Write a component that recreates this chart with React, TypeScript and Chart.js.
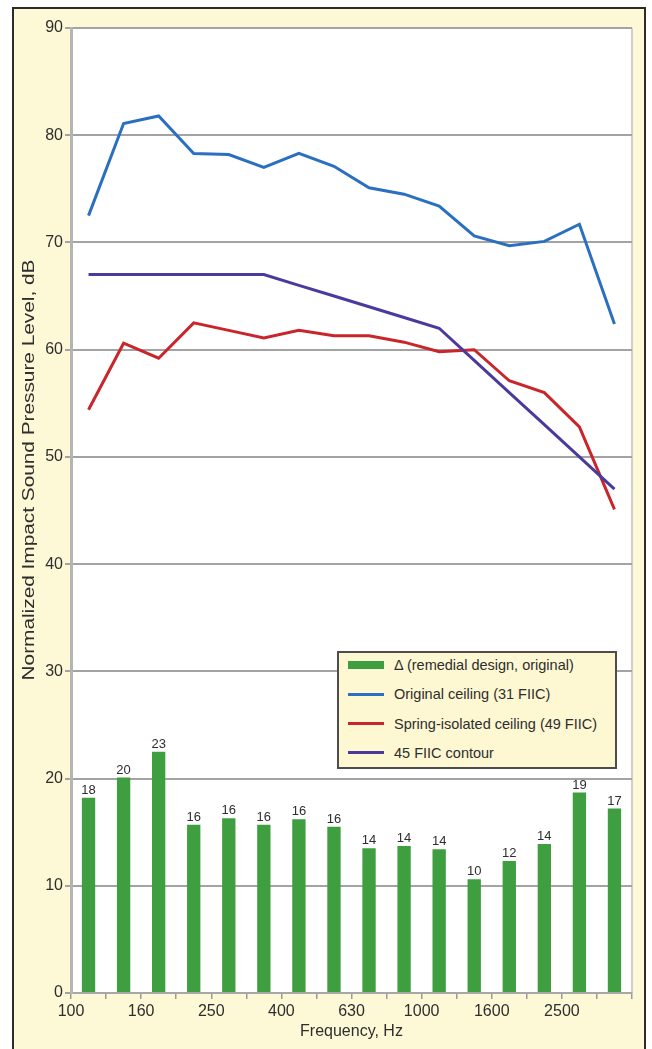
import { useEffect, useRef } from 'react';
import { Chart, registerables } from 'chart.js';

Chart.register(...registerables);

// 1/3-octave bands (one bar / point per band)
const BANDS = ['100', '125', '160', '200', '250', '315', '400', '500', '630', '800', '1000', '1250', '1600', '2000', '2500', '3150'];
// labels printed on the band boundaries (every other one)
const TICK_LABELS = ['100', '160', '250', '400', '630', '1000', '1600', '2500'];

const DELTA = [18.2, 20.1, 22.5, 15.7, 16.3, 15.7, 16.2, 15.5, 13.5, 13.7, 13.4, 10.6, 12.3, 13.9, 18.7, 17.2];
const DELTA_LABELS = ['18', '20', '23', '16', '16', '16', '16', '16', '14', '14', '14', '10', '12', '14', '19', '17'];
const ORIGINAL = [72.5, 81.1, 81.8, 78.3, 78.2, 77.0, 78.3, 77.1, 75.1, 74.5, 73.4, 70.6, 69.7, 70.1, 71.7, 62.4];
const SPRING = [54.4, 60.6, 59.2, 62.5, 61.8, 61.1, 61.8, 61.3, 61.3, 60.7, 59.8, 60.0, 57.1, 56.0, 52.8, 45.1];
const CONTOUR = [67, 67, 67, 67, 67, 67, 66, 65, 64, 63, 62, 59, 56, 53, 50, 47];

const SERIES_NAMES = ['Δ (remedial design, original)', 'Original ceiling (31 FIIC)', 'Spring-isolated ceiling (49 FIIC)', '45 FIIC contour'];
const COLORS = ['#3f9e3f', '#2b6fc0', '#c8262b', '#4b3a9e'];

const Y_TITLE = 'Normalized Impact Sound Pressure Level, dB';
const X_TITLE = 'Frequency, Hz';

const FONT = "'Liberation Sans', Arial, sans-serif";
const TEXT = '#2e2e2e';

export default function App() {
  const canvasRef = useRef<HTMLCanvasElement>(null);

  useEffect(() => {
    document.body.style.margin = '0';
    if (!canvasRef.current) return;

    const plotBg = {
      id: 'plotBg',
      beforeDraw(chart: Chart) {
        const { ctx, chartArea: a } = chart;
        ctx.save();
        ctx.fillStyle = '#ffffff';
        ctx.fillRect(a.left, a.top, a.right - a.left, a.bottom - a.top);
        ctx.strokeStyle = '#cfcfcf';
        ctx.lineWidth = 2;
        ctx.beginPath();
        ctx.moveTo(a.right, a.top);
        ctx.lineTo(a.right, a.bottom);
        ctx.stroke();
        ctx.restore();
      },
    };

    const barLabels = {
      id: 'barLabels',
      afterDatasetsDraw(chart: Chart) {
        const { ctx } = chart;
        const meta = chart.getDatasetMeta(0);
        ctx.save();
        ctx.font = `13px ${FONT}`;
        ctx.fillStyle = TEXT;
        ctx.textAlign = 'center';
        ctx.textBaseline = 'bottom';
        meta.data.forEach((el: any, i: number) => {
          ctx.fillText(DELTA_LABELS[i], el.x, el.y - 1);
        });
        ctx.restore();
      },
    };

    const yTitle = {
      id: 'yTitle',
      afterDraw(chart: Chart) {
        const { ctx } = chart;
        ctx.save();
        ctx.translate(30, 470);
        ctx.rotate(-Math.PI / 2);
        ctx.scale(1.3, 1);
        ctx.font = `16px ${FONT}`;
        ctx.fillStyle = TEXT;
        ctx.textAlign = 'center';
        ctx.textBaseline = 'middle';
        ctx.fillText(Y_TITLE, 0, 0);
        ctx.restore();
      },
    };

    const chart = new Chart(canvasRef.current, {
      type: 'bar',
      data: {
        labels: BANDS,
        datasets: [
          { type: 'bar', label: SERIES_NAMES[0], data: DELTA, backgroundColor: COLORS[0], barPercentage: 0.38, categoryPercentage: 1, order: 4 },
          { type: 'line', label: SERIES_NAMES[1], data: ORIGINAL, borderColor: COLORS[1], borderWidth: 3, pointRadius: 0, tension: 0, order: 1 },
          { type: 'line', label: SERIES_NAMES[2], data: SPRING, borderColor: COLORS[2], borderWidth: 3, pointRadius: 0, tension: 0, order: 3 },
          { type: 'line', label: SERIES_NAMES[3], data: CONTOUR, borderColor: COLORS[3], borderWidth: 3, pointRadius: 0, tension: 0, order: 2 },
        ],
      },
      options: {
        responsive: false,
        animation: false,
        layout: { padding: { left: 0, right: 20, top: 28, bottom: 0 } },
        plugins: { legend: { display: false }, tooltip: { enabled: false } },
        scales: {
          x: { type: 'category', display: false, offset: true },
          xt: {
            type: 'linear',
            position: 'bottom',
            min: 0,
            max: 16,
            offset: false,
            afterFit: (s: any) => { s.height = 56; },
            grid: { offset: false, drawOnChartArea: false, tickLength: 6, color: '#9a9a9a', lineWidth: 1.5 },
            border: { color: '#a8a8a8', width: 2 },
            ticks: {
              stepSize: 1,
              autoSkip: false,
              maxRotation: 0,
              padding: 3,
              color: TEXT,
              font: { family: FONT, size: 16 },
              callback: (v: any) => (Number(v) % 2 === 0 ? TICK_LABELS[Number(v) / 2] ?? '' : ''),
            },
            title: { display: true, text: X_TITLE, color: TEXT, font: { family: FONT, size: 16 }, padding: { top: 0, bottom: 8 } },
          },
          y: {
            min: 0,
            max: 90,
            afterFit: (s: any) => { s.width = 71; },
            grid: { color: '#a3a3a3', lineWidth: 2, tickLength: 6 },
            border: { color: '#b5b5b5', width: 3 },
            ticks: { stepSize: 10, padding: 2, color: TEXT, font: { family: FONT, size: 16 } },
          },
        },
      },
      plugins: [plotBg, barLabels, yTitle],
    });

    return () => chart.destroy();
  }, []);

  return (
    <div style={{ position: 'relative', width: 652, height: 1049, overflow: 'hidden', background: '#ffffff' }}>
      <div style={{ position: 'absolute', left: 12, top: 7, width: 634, height: 1060, boxSizing: 'border-box', border: '2px solid #2b2b2b', background: '#fdf8d6' }} />
      <canvas ref={canvasRef} width={652} height={1049} style={{ position: 'absolute', left: 0, top: 0 }} />
      <div style={{ position: 'absolute', left: 337, top: 651, width: 280, height: 118, boxSizing: 'border-box', border: '2px solid #4d4d4d', background: '#fdf7d2', fontFamily: FONT, fontSize: 14.5, color: TEXT }}>
        {SERIES_NAMES.map((name, i) => (
          <div key={i} style={{ position: 'absolute', left: 9, top: 2 + i * 29.3, height: 20, display: 'flex', alignItems: 'center', whiteSpace: 'nowrap' }}>
            <span style={{ display: 'inline-block', width: 36, height: i === 0 ? 8 : 3, background: COLORS[i], marginRight: 10 }} />
            <span>{name}</span>
          </div>
        ))}
      </div>
    </div>
  );
}
